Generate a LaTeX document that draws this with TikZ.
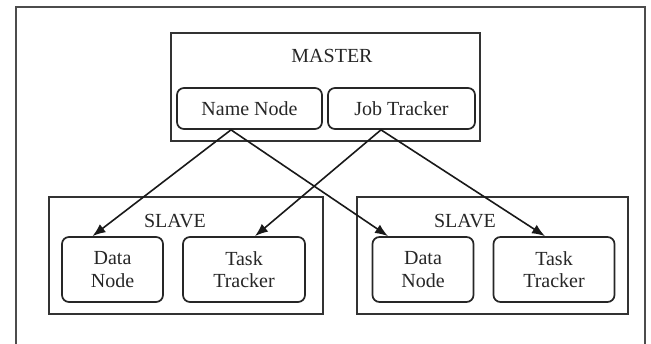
\documentclass[tikz,border=0pt]{standalone}
\usepackage{fontspec}
\setmainfont{Liberation Serif}
\usepackage{tikz}
\usetikzlibrary{arrows.meta,positioning}

\begin{document}
\begin{tikzpicture}[x=1pt, y=-1pt,
    every node/.style={font=\fontsize{20}{22.5}\selectfont, text=black!85},
    frame/.style={draw=black!80, line width=1.7pt, rectangle, inner sep=0pt},
    unit/.style={draw=black!85, line width=1.7pt, rounded corners=7pt, inner sep=0pt, align=center},
    link/.style={draw=black!90, line width=1.6pt, -{Latex[length=13pt,width=10pt]}}]
    \useasboundingbox (0,0) rectangle (651,344);
    % outer frame (open at the bottom)
    \draw[line width=1.8pt, black!70] (16,344) -- (16,7) -- (645,7) -- (645,344);
    %
    % master
    \node[frame, minimum width=309pt, minimum height=108pt] (master) at (325.5,87) {};
    \node (mastertxt) at (332,56) {MASTER};
    \node[unit, minimum width=145pt, minimum height=41pt] (namenode) at (249.5,108.5) {Name Node};
    \node[unit, minimum width=147pt, minimum height=41pt] (jobtracker) at (401.5,108.5) {Job Tracker};
    %
    % left slave
    \node[frame, minimum width=274pt, minimum height=117pt] (slaveA) at (186,255.5) {};
    \node (slaveAtxt) at (175,221) {SLAVE};
    \node[unit, minimum width=101pt, minimum height=65pt] (dataA) at (112.5,269.5) {Data\\Node};
    \node[unit, minimum width=122pt, minimum height=65pt] (taskA) at (244,269.5) {Task\\Tracker};
    %
    % right slave
    \node[frame, minimum width=271pt, minimum height=117pt] (slaveB) at (492.5,255.5) {};
    \node (slaveBtxt) at (465,221) {SLAVE};
    \node[unit, minimum width=101pt, minimum height=65pt] (dataB) at (423,269.5) {Data\\Node};
    \node[unit, minimum width=121pt, minimum height=65pt] (taskB) at (554,269.5) {Task\\Tracker};
    %
    % links
    \draw[link] ([xshift=-18.5pt]namenode.south) -- ([xshift=-20pt]dataA.north);
    \draw[link] ([xshift=-18.5pt]namenode.south) -- ([xshift=-35pt]dataB.north);
    \draw[link] ([xshift=-20.5pt]jobtracker.south) -- ([xshift=11pt]taskA.north);
    \draw[link] ([xshift=-20.5pt]jobtracker.south) -- ([xshift=-9pt]taskB.north);
\end{tikzpicture}
\end{document}
